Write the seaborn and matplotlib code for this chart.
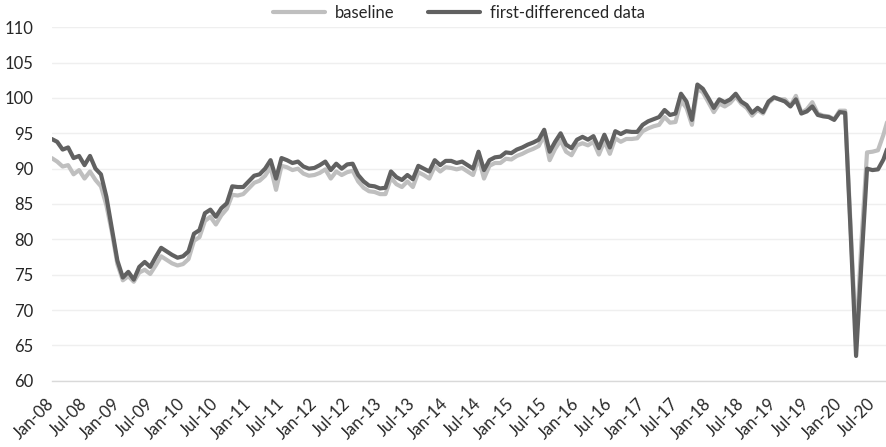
import numpy as np
import pandas as pd
import seaborn as sns
from matplotlib import pyplot as plt
import matplotlib.transforms as mtransforms

# monthly values, Jan-08 .. Oct-20
first_diff = [
    94.2, 93.8, 92.7, 93.0, 91.5, 91.8, 90.5, 91.8, 90.0, 89.2, 86.0, 81.5,   # 2008
    77.0, 74.6, 75.4, 74.3, 76.1, 76.8, 76.1, 77.5, 78.8, 78.3, 77.8, 77.4,   # 2009
    77.6, 78.3, 80.8, 81.3, 83.7, 84.2, 83.2, 84.4, 85.1, 87.5, 87.4, 87.4,   # 2010
    88.2, 89.0, 89.2, 90.0, 91.2, 88.6, 91.5, 91.2, 90.8, 91.0, 90.3, 90.0,   # 2011
    90.1, 90.5, 91.0, 89.8, 90.7, 90.0, 90.6, 90.7, 89.1, 88.2, 87.6, 87.5,   # 2012
    87.2, 87.3, 89.6, 88.8, 88.4, 89.1, 88.5, 90.4, 90.0, 89.6, 91.2, 90.5,   # 2013
    91.1, 91.1, 90.8, 91.0, 90.5, 90.0, 92.4, 89.8, 91.2, 91.6, 91.7, 92.3,   # 2014
    92.2, 92.7, 93.0, 93.4, 93.7, 94.1, 95.5, 92.4, 93.8, 95.0, 93.4, 92.9,   # 2015
    94.1, 94.5, 94.1, 94.6, 92.9, 94.8, 93.0, 95.3, 94.9, 95.3, 95.2, 95.2,   # 2016
    96.2, 96.7, 97.0, 97.3, 98.3, 97.6, 97.8, 100.6, 99.5, 96.9, 101.9, 101.3,  # 2017
    100.0, 98.6, 99.8, 99.4, 99.8, 100.6, 99.5, 99.0, 97.9, 98.6, 98.0, 99.5,  # 2018
    100.1, 99.8, 99.5, 98.8, 99.8, 97.8, 98.1, 98.8, 97.6, 97.4, 97.3, 96.9,  # 2019
    98.0, 97.9, 81.0, 63.5, 77.0, 90.0, 89.8, 89.9, 91.3, 93.5,              # 2020
]
baseline = [
    91.5, 91.0, 90.3, 90.5, 89.2, 89.8, 88.6, 89.6, 88.4, 87.5, 84.8, 81.0,
    76.5, 74.2, 74.8, 74.0, 75.3, 75.7, 75.1, 76.3, 77.6, 77.1, 76.6, 76.3,
    76.5, 77.2, 79.8, 80.3, 82.6, 83.2, 82.1, 83.4, 84.3, 86.3, 86.2, 86.4,
    87.2, 88.0, 88.3, 89.0, 90.2, 87.0, 90.4, 90.2, 89.8, 90.0, 89.3, 89.0,
    89.1, 89.4, 89.9, 88.6, 89.6, 89.1, 89.5, 89.7, 88.2, 87.3, 86.8, 86.7,
    86.4, 86.4, 88.7, 87.8, 87.4, 88.2, 87.4, 89.5, 89.1, 88.6, 90.3, 89.6,
    90.2, 90.1, 89.9, 90.1, 89.6, 89.1, 91.5, 88.6, 90.4, 90.8, 90.8, 91.4,
    91.3, 91.8, 92.1, 92.5, 92.8, 93.2, 94.7, 91.2, 92.8, 94.0, 92.4, 91.9,
    93.3, 93.6, 93.3, 93.8, 92.0, 93.9, 92.1, 94.3, 93.8, 94.2, 94.2, 94.3,
    95.3, 95.7, 96.0, 96.2, 97.3, 96.5, 96.6, 99.6, 98.6, 96.2, 101.3, 100.8,
    99.4, 98.0, 99.2, 98.8, 99.3, 100.2, 99.2, 98.6, 97.5, 98.3, 97.8, 99.3,
    100.0, 99.8, 99.8, 98.9, 100.3, 97.9, 98.4, 99.4, 97.8, 97.5, 97.4, 97.0,
    98.2, 98.2, 82.0, 65.5, 80.0, 92.3, 92.4, 92.6, 94.8, 97.5,
]
years = [f"{y:02d}" for y in range(8, 21)]
tick_labels = [f"{m}-{y}" for y in years for m in ("Jan", "Jul")]

month = np.arange(len(first_diff))
df = pd.DataFrame({"month": month, "baseline": baseline, "first_diff": first_diff})

sns.set_style("white")
plt.rcParams['font.family'] = ['Lato', 'DejaVu Sans']

fig = plt.figure(figsize=(8.87, 4.47), dpi=100)
ax = fig.add_axes([51.7 / 887, 1 - 380.7 / 447, 1 - 51.7 / 887, (380.7 - 27.3) / 447])

sns.lineplot(data=df, x="month", y="baseline", color="#bfbfbf", lw=3, label="baseline", ax=ax)
sns.lineplot(data=df, x="month", y="first_diff", color="#616161", lw=3,
             label="first-differenced data", ax=ax)

ax.set_xlim(0, 152.65)
ax.set_ylim(60, 110)
ax.set_yticks(range(60, 111, 5))
ax.set_xticks(range(0, 6 * len(tick_labels), 6))
ax.set_xticklabels(tick_labels, rotation=45, ha="right", rotation_mode="anchor", va="center")
offset = mtransforms.ScaledTranslation(11 / 100, 0, fig.dpi_scale_trans)
for lab in ax.get_xticklabels():
    lab.set_transform(lab.get_transform() + offset)
ax.tick_params(axis="both", length=0, labelsize=12, colors="#262626")
ax.tick_params(axis="y", pad=13)
ax.tick_params(axis="x", pad=15)
ax.set_xlabel("")
ax.set_ylabel("")
ax.grid(axis="y", color="#efefef", lw=1)
ax.grid(axis="x", visible=False)
for side in ["top", "right", "left"]:
    ax.spines[side].set_visible(False)
ax.spines["bottom"].set_color("#d9d9d9")
ax.spines["bottom"].set_linewidth(1)

ax.legend(loc="center", bbox_to_anchor=(459 / 887, 1 - 13 / 447), bbox_transform=fig.transFigure,
          ncol=2, frameon=False, fontsize=12, handlelength=3.1, columnspacing=2.0,
          handletextpad=0.6, labelcolor="#262626")

fig.savefig("out.png", dpi=100)
